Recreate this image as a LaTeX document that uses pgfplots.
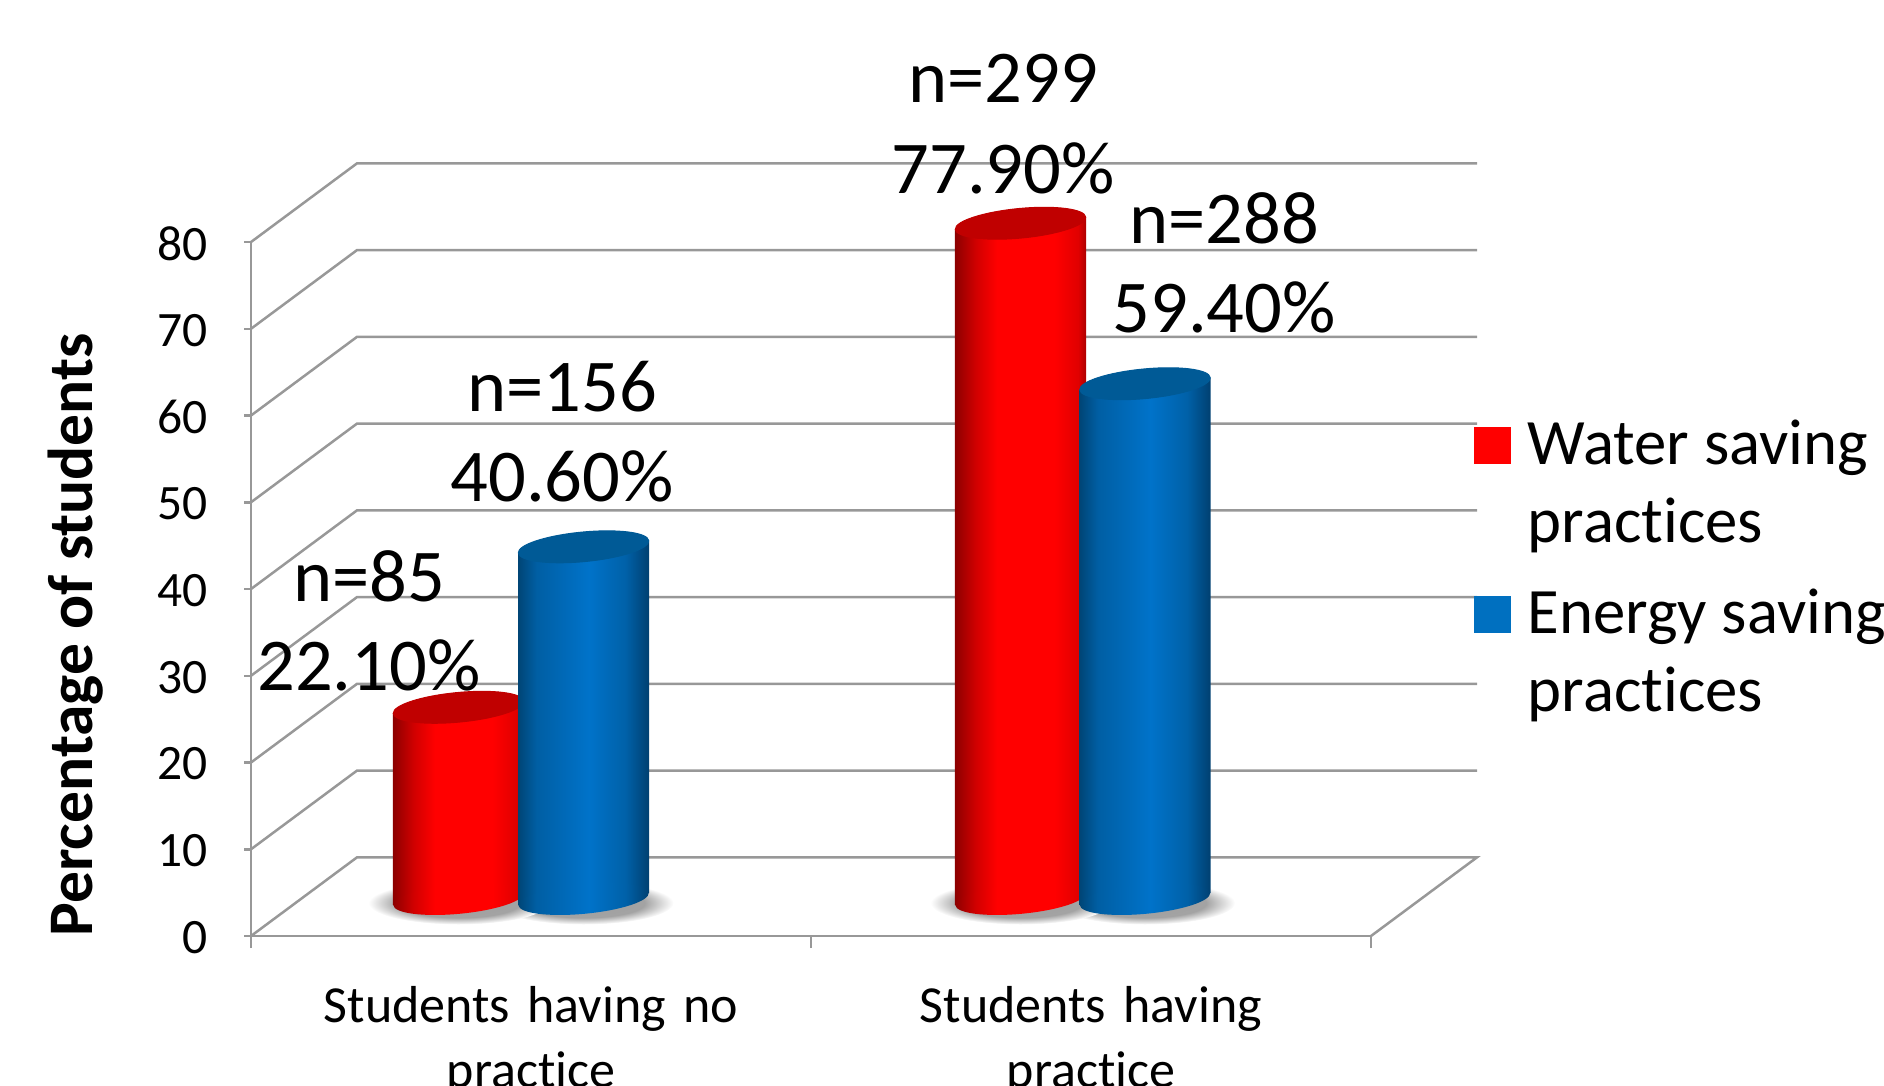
\documentclass[border=0pt]{standalone}
\usepackage{fontspec}
\setmainfont{Carlito}[Ligatures=NoCommon]
\usepackage{pgfplots}
\usepackage{pgfplotstable}
\pgfplotsset{compat=1.18}

% Horizontal colour ramps that make the bars read as cylinders
\pgfdeclarehorizontalshading{cylRed}{100bp}{
  rgb(0bp)=(0.55,0,0);
  rgb(25bp)=(0.55,0,0);
  rgb(33bp)=(0.82,0,0);
  rgb(41bp)=(1,0,0);
  rgb(63bp)=(1,0,0);
  rgb(72bp)=(0.88,0,0);
  rgb(75bp)=(0.68,0,0);
  rgb(100bp)=(0.68,0,0)}
\pgfdeclarehorizontalshading{cylBlue}{100bp}{
  rgb(0bp)=(0,0.27,0.46);
  rgb(25bp)=(0,0.27,0.46);
  rgb(32bp)=(0,0.37,0.64);
  rgb(52bp)=(0,0.45,0.79);
  rgb(66bp)=(0,0.38,0.66);
  rgb(75bp)=(0,0.25,0.44);
  rgb(100bp)=(0,0.25,0.44)}
\pgfdeclareradialshading{floorShadow}{\pgfpoint{0bp}{0bp}}{
  rgb(0bp)=(0.62,0.62,0.62);
  rgb(17bp)=(0.64,0.64,0.64);
  rgb(25bp)=(1,1,1);
  rgb(50bp)=(1,1,1)}

\definecolor{wallLine}{HTML}{989898}
\definecolor{capRed}{HTML}{C00000}
\definecolor{capBlue}{HTML}{005A96}
\definecolor{keyRed}{HTML}{FF0000}
\definecolor{keyBlue}{HTML}{0070C0}

% Elliptical ends of the cylinders, tilted with the floor
\pgfdeclareplotmark{topRed}{\fill[capRed] (0pt,0pt) ellipse [x radius=26.2pt, y radius=5.92pt, rotate=5.4];}
\pgfdeclareplotmark{topBlue}{\fill[capBlue] (0pt,0pt) ellipse [x radius=26.2pt, y radius=5.92pt, rotate=5.4];}
\pgfdeclareplotmark{baseRed}{\path[draw=none, shade, shading=cylRed] (0pt,0pt) ellipse [x radius=26.2pt, y radius=5.92pt, rotate=5.4];}
\pgfdeclareplotmark{baseBlue}{\path[draw=none, shade, shading=cylBlue] (0pt,0pt) ellipse [x radius=26.2pt, y radius=5.92pt, rotate=5.4];}
\pgfdeclareplotmark{shadowBlob}{\path[draw=none, shade, shading=floorShadow] (0pt,-1.6pt) ellipse [x radius=36pt, y radius=8.6pt];}

% Bar heights in percent, at the bars' positions on the category axis
\pgfplotstableread{
pos    pct
0.3705 22.1
1.3741 77.9
}\waterTable
\pgfplotstableread{
pos    pct
0.5938 40.6
1.5964 59.4
}\energyTable

% Frame shared by the layers; zero lies on the plane the bars stand on
\pgfplotsset{barLayer/.style={
  at={(100.4pt,59.6pt)}, anchor=south west,
  scale only axis, width=448pt, height=277.6pt,
  xmin=0, xmax=2, ymin=-4.265, ymax=75.735,
  clip=false, hide axis}}

\begin{document}
\begin{tikzpicture}
\clip[use as bounding box] (0,0) rectangle (753.6pt,434pt);

% Front plane: ticks, tick labels and the receding wall and floor lines
\begin{axis}[
  at={(100.4pt,59.6pt)}, anchor=south west,
  scale only axis, width=448pt, height=277.6pt,
  xmin=0, xmax=2, ymin=0, ymax=80,
  clip=false,
  axis x line*=bottom, axis y line*=left,
  axis line style={wallLine, line width=1pt, -},
  xtick={0,1,2},
  x tick label as interval,
  xticklabels={Students having no\\practice, Students having\\practice},
  xticklabel style={font=\fontsize{20.8}{26.2}\selectfont, align=center, text width=220pt, yshift=-12.3pt},
  ytick={0,10,...,80},
  yticklabel style={font=\fontsize{19.8}{22}\selectfont, xshift=-9.6pt, yshift=-0.6pt},
  /pgf/number format/assume math mode=true,
  tick align=outside,
  x tick style={wallLine, line width=1pt, /pgfplots/major tick length=4.8pt},
  y tick style={wallLine, line width=1pt, /pgfplots/major tick length=2.8pt},
  ylabel={\textbf{Percentage of students}},
  every axis y label/.style={at={(axis description cs:-0.157,0.434)}, rotate=90, anchor=center, font=\fontsize{25.4}{28}\selectfont},
]
\addplot[wallLine, line width=1pt] coordinates {(0,0) (0.1893,9.07) (2.1893,9.07) (2,0)};
\addplot[wallLine, line width=1pt] coordinates {(0,10) (0.1893,19.07) (2.1893,19.07)};
\addplot[wallLine, line width=1pt] coordinates {(0,20) (0.1893,29.07) (2.1893,29.07)};
\addplot[wallLine, line width=1pt] coordinates {(0,30) (0.1893,39.07) (2.1893,39.07)};
\addplot[wallLine, line width=1pt] coordinates {(0,40) (0.1893,49.07) (2.1893,49.07)};
\addplot[wallLine, line width=1pt] coordinates {(0,50) (0.1893,59.07) (2.1893,59.07)};
\addplot[wallLine, line width=1pt] coordinates {(0,60) (0.1893,69.07) (2.1893,69.07)};
\addplot[wallLine, line width=1pt] coordinates {(0,70) (0.1893,79.07) (2.1893,79.07)};
\addplot[wallLine, line width=1pt] coordinates {(0,80) (0.1893,89.07) (2.1893,89.07)};
\end{axis}

% Shadows on the floor
\begin{axis}[barLayer]
\addplot[only marks, mark=shadowBlob] table[x=pos, y expr=0] {\energyTable};
\addplot[only marks, mark=shadowBlob] table[x=pos, y expr=0] {\waterTable};
\end{axis}

% Water saving cylinders
\begin{axis}[barLayer]
\addplot[draw=none, shade, shading=cylRed]
  coordinates {(0.2535,-0.68) (0.4875,0.68) (0.4875,22.78) (0.2535,21.42)};
\addplot[draw=none, shade, shading=cylRed]
  coordinates {(1.2571,-0.68) (1.4911,0.68) (1.4911,78.58) (1.2571,77.22)};
\addplot[only marks, mark=baseRed] table[x=pos, y expr=0] {\waterTable};
\addplot[only marks, mark=topRed] table[x=pos, y=pct] {\waterTable};
\end{axis}

% Energy saving cylinders, the legend and the value labels
\begin{axis}[barLayer,
  legend cell align=left,
  legend style={at={(axis cs:2.184,55.8)}, anchor=north west, draw=none, fill=none,
    inner sep=0pt, outer sep=0pt, column sep=4.7pt, row sep=13.2pt,
    font=\fontsize{25.9}{31.2}\selectfont, cells={align=left}},
]
\addplot[draw=none, shade, shading=cylBlue, forget plot]
  coordinates {(0.4768,-0.68) (0.7108,0.68) (0.7108,41.28) (0.4768,39.92)};
\addplot[draw=none, shade, shading=cylBlue, forget plot]
  coordinates {(1.4794,-0.68) (1.7134,0.68) (1.7134,60.08) (1.4794,58.72)};
\addplot[only marks, mark=baseBlue, forget plot] table[x=pos, y expr=0] {\energyTable};
\addplot[only marks, mark=topBlue, forget plot] table[x=pos, y=pct] {\energyTable};

\addlegendimage{legend image code/.code={\fill[keyRed] (0pt,7.9pt) rectangle (14.4pt,22.3pt);}}
\addlegendentry{Water saving\\practices}
\addlegendimage{legend image code/.code={\fill[keyBlue] (0pt,7.9pt) rectangle (14.4pt,22.3pt);}}
\addlegendentry{Energy saving\\practices}

\begin{scope}[every node/.style={font=\fontsize{29.8}{32}\selectfont, inner sep=0pt}]
\node at (axis cs:0.2107,37.25) {n=85};
\node at (axis cs:0.2107,26.9) {22.10\%};
\node at (axis cs:0.5554,59.05) {n=156};
\node at (axis cs:0.5554,48.7) {40.60\%};
\node at (axis cs:1.3429,94.55) {n=299};
\node at (axis cs:1.3429,84.25) {77.90\%};
\node at (axis cs:1.7375,78.5) {n=288};
\node at (axis cs:1.7375,68.15) {59.40\%};
\end{scope}
\end{axis}
\end{tikzpicture}
\end{document}
